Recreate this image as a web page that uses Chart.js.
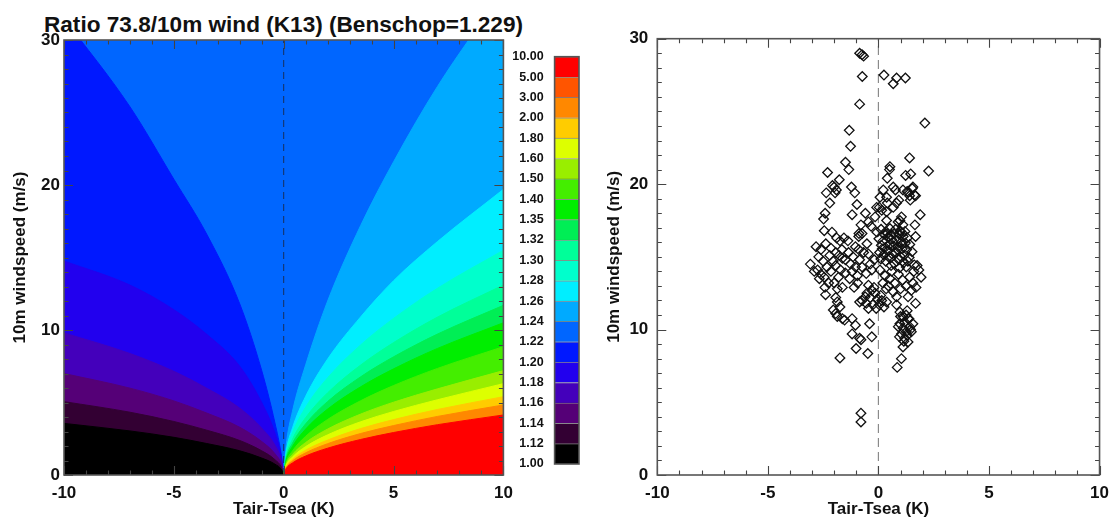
<!DOCTYPE html>
<html>
<head>
<meta charset="utf-8">
<title>Ratio 73.8/10m wind</title>
<script src="https://cdn.jsdelivr.net/npm/chart.js@4.4.1/dist/chart.umd.min.js"></script>
<style>
  html, body { margin: 0; padding: 0; background: #fff; overflow: hidden; }
  body { width: 1117px; height: 523px; position: relative; font-family: "Liberation Sans", Arial, sans-serif; }
  .box { position: absolute; top: 0; height: 523px; }
  #title { position: absolute; left: 0; top: 12px; width: 567px; text-align: center; font-weight: bold;
           font-size: 22.6px; line-height: 26px; color: #111; white-space: nowrap; }
</style>
</head>
<body>
<div id="title">Ratio 73.8/10m wind (K13) (Benschop=1.229)</div>
<div class="box" style="left:0;width:567px"><canvas id="ratioMap"></canvas></div>
<div class="box" style="left:480px;width:110px"><canvas id="ratioKey"></canvas></div>
<div class="box" style="left:590px;width:527px"><canvas id="windScatter"></canvas></div>
<script>
// ---- contour levels of the 73.8m / 10m wind ratio ----
const levelLabels = ['1.00', '1.12', '1.14', '1.16', '1.18', '1.20', '1.22', '1.24', '1.26', '1.28', '1.30',
                     '1.32', '1.35', '1.40', '1.50', '1.60', '1.80', '2.00', '3.00', '5.00', '10.00'];
// one colour per band (levelLabels[i] .. levelLabels[i+1])
const bandColors = ['#000000', '#330033', '#550077', '#4400bb', '#2200ee', '#0018ff', '#0066ff', '#00aaff',
                    '#00eeff', '#00ffcc', '#00ff99', '#00ee55', '#00ee00', '#44ee00', '#99ee00', '#ddff00',
                    '#ffcc00', '#ff8800', '#ff5500', '#ff0000'];

// |Tair-Tsea| (K) where the contour lines are sampled
const dTgrid = [0, 0.1, 0.4, 1, 2, 3.5, 5, 7, 10];

// 10m wind speed (m/s) of each contour line, unstable side (Tair < Tsea)
const unstable122 = [0, 1.3, 3.6, 7.2, 11.8, 16.6, 20.4, 25.4, 31.5];
const unstable120 = [0, 1.2, 2.9, 5.0, 7.5, 9.7, 11.4, 13.1, 14.76];
const unstable118 = [0, 0.98, 2.06, 3.23, 4.61, 5.98, 7.15, 8.38, 9.8];
const unstable116 = [0, 0.70, 1.47, 2.31, 3.29, 4.27, 5.11, 5.99, 7.0];
const unstable114 = [0, 0.51, 1.06, 1.67, 2.38, 3.09, 3.69, 4.33, 5.06];
const unstable112 = [0, 0.36, 0.75, 1.17, 1.67, 2.17, 2.60, 3.04, 3.56];

// stable side (Tair > Tsea)
const stable124 = [0, 1.9, 4.4, 7.6, 12.0, 17.2, 21.6, 26.8, 33.4];
const stable126 = [0, 1.49, 3.25, 5.43, 8.0, 10.9, 13.4, 16.1, 19.7];
const stable128 = [0, 1.41, 2.91, 4.68, 6.71, 8.97, 10.8, 12.88, 15.5];
const stable130 = [0, 1.19, 2.46, 3.96, 5.67, 7.58, 9.13, 10.89, 13.1];
const stable132 = [0, 1.07, 2.19, 3.53, 5.07, 6.77, 8.15, 9.72, 11.7];
const stable135 = [0, 0.96, 1.97, 3.17, 4.55, 6.08, 7.32, 8.73, 10.5];
const stable140 = [0, 0.81, 1.66, 2.67, 3.83, 5.12, 6.17, 7.35, 8.85];
const stable150 = [0, 0.71, 1.42, 2.24, 3.17, 4.20, 5.02, 5.94, 7.2];
const stable160 = [0, 0.62, 1.24, 1.96, 2.77, 3.67, 4.38, 5.19, 6.3];
const stable180 = [0, 0.54, 1.08, 1.71, 2.41, 3.20, 3.82, 4.52, 5.4];
const stable200 = [0, 0.48, 0.97, 1.53, 2.16, 2.86, 3.41, 4.04, 4.83];
const stable500 = [0, 0.41, 0.83, 1.31, 1.85, 2.45, 2.93, 3.47, 4.14];

// observations: [Tair-Tsea (K), 10m wind (m/s)]
const observations = [
  [-0.85, 29.0], [-0.74, 28.9], [-0.67, 28.8], [-0.73, 27.4], [0.25, 27.5], [0.67, 26.9], [0.82, 27.3], [1.22, 27.3],
  [-0.85, 25.5], [2.1, 24.2], [-1.32, 23.7], [-1.26, 22.6], [-1.49, 21.5], [-1.34, 21.0], [1.41, 21.8], [2.27, 20.9],
  [-2.3, 20.8], [0.52, 21.2], [0.5, 21.0], [0.4, 20.4], [1.23, 20.6], [1.46, 20.7], [-1.77, 20.3],
  [-2.08, 19.9], [-2.0, 19.8], [-1.9, 19.6], [-2.36, 19.4], [-1.96, 19.4], [-1.22, 19.8], [-1.07, 19.4], [0.22, 19.6],
  [0.67, 19.8], [1.11, 19.6], [1.56, 19.8], [1.3, 19.5], [1.41, 19.2], [1.68, 19.2], [0.4, 18.7], [1.44, 18.9],
  [-2.2, 18.7], [-0.97, 18.6], [0.04, 18.4], [-2.41, 18.0], [-0.59, 18.0], [-0.15, 17.75], [1.89, 17.9], [-2.48, 17.6],
  [0.37, 17.5], [0.97, 17.5], [-0.79, 17.2], [-0.33, 17.1], [1.65, 17.2], [-2.45, 16.8], [-2.1, 16.7], [-0.88, 16.6],
  [-0.07, 16.7], [0.97, 16.8], [1.07, 16.65], [1.68, 16.4],
  [1.53, 19.7], [1.63, 19.25], [1.34, 19.45], [0.07, 19.1], [0.37, 19.1], [0.77, 19.6], [0.92, 18.9], [-0.08, 18.4],
  [0.15, 18.2], [0.37, 18.1], [0.67, 18.4], [0.82, 18.7], [1.04, 17.75], [0.89, 17.4], [1.11, 17.2], [-0.45, 17.4],
  [-1.19, 17.9], [-0.89, 16.4], [-0.74, 16.6],
  [0.12, 16.9], [0.34, 16.75], [0.52, 16.95], [0.71, 16.6], [0.93, 16.55], [1.12, 16.4], [1.31, 16.3],
  [0.02, 16.25], [0.21, 16.1], [0.43, 16.35], [0.6, 16.2], [0.82, 16.15], [1.03, 16.0], [1.22, 15.95], [1.42, 15.85],
  [0.13, 15.8], [0.31, 15.65], [0.5, 15.85], [0.68, 15.75], [0.88, 15.7], [1.08, 15.55], [1.28, 15.5], [1.52, 15.35],
  [0.05, 15.3], [0.24, 15.15], [0.41, 15.4], [0.62, 15.2], [0.79, 15.3], [0.98, 15.05], [1.18, 15.15], [1.39, 14.95],
  [0.11, 14.85], [0.33, 14.7], [0.54, 14.9], [0.72, 14.55], [0.92, 14.8], [1.14, 14.6], [1.33, 14.7], [1.62, 14.45],
  [0.26, 16.55], [0.66, 16.0], [0.86, 15.5], [0.46, 15.0], [1.06, 15.85], [0.17, 15.55], [0.57, 14.4], [1.26, 14.3],
  [0.96, 14.25], [0.78, 16.9], [1.0, 16.75], [0.4, 16.6], [1.2, 16.75], [0.55, 16.5],
  [0.07, 14.1], [0.3, 13.7], [0.52, 13.5], [0.74, 13.2], [1.41, 13.6], [1.56, 13.2], [1.83, 14.1], [1.93, 13.6],
  [1.34, 12.25], [1.49, 12.7], [1.68, 11.8], [0.67, 12.6], [0.82, 12.25], [0.2, 13.2], [0.45, 13.0], [0.9, 13.8],
  [1.1, 13.4], [1.25, 13.0], [0.6, 14.0], [1.7, 12.9], [1.0, 12.8], [0.35, 12.8], [1.6, 14.0], [1.75, 14.4],
  [-0.45, 13.05], [-0.3, 12.7], [-0.52, 12.5], [-0.37, 12.2], [-0.15, 12.5], [-0.04, 12.1], [0.15, 12.0], [0.04, 11.7],
  [-0.1, 11.45], [0.25, 11.55], [0.37, 11.9], [-0.74, 12.0], [-0.55, 11.8], [-0.45, 11.45], [-0.85, 11.9], [-0.94, 13.2],
  [-0.2, 12.9], [0.1, 12.35], [-0.6, 12.25], [-0.25, 11.7],
  [0.82, 11.7], [0.97, 11.2], [1.11, 10.9], [1.3, 11.3], [1.34, 10.75], [0.97, 10.4], [1.11, 10.1], [1.26, 9.85],
  [1.41, 10.2], [1.04, 9.7], [1.19, 9.4], [1.34, 9.15], [1.49, 9.85], [1.11, 8.8], [1.04, 8.0], [0.85, 7.4],
  [1.38, 10.75], [1.56, 10.4], [1.2, 10.5], [1.0, 10.9], [0.9, 10.2], [1.25, 11.0], [1.45, 10.0], [1.15, 9.2],
  [0.95, 9.5], [1.3, 9.6],
  [-1.89, 16.3], [-1.74, 16.1], [-1.56, 16.3], [-1.38, 16.1], [-2.38, 15.9], [-2.82, 15.7], [-2.6, 15.5], [-2.15, 15.6],
  [-1.93, 15.3], [-1.04, 15.7], [-0.89, 15.5], [-0.52, 15.9], [-0.67, 15.3], [-1.78, 15.1], [-1.63, 14.9], [-1.49, 14.8],
  [-3.08, 14.5], [-2.75, 14.1], [-2.6, 13.8], [-2.33, 14.3], [-2.15, 14.0], [-1.93, 14.4], [-1.71, 14.1], [-1.26, 14.5],
  [-1.04, 14.3], [-1.19, 14.0], [-0.85, 14.8], [-0.74, 14.3], [-0.37, 14.5], [-0.19, 14.8], [-0.55, 13.85], [-2.67, 13.5],
  [-2.42, 12.9], [-2.39, 12.4], [-2.0, 13.2], [-1.86, 12.8], [-1.63, 12.9], [-2.5, 14.7], [-2.2, 15.1], [-1.35, 15.3],
  [-1.15, 15.0], [-2.9, 14.0], [-2.45, 13.6], [-1.5, 13.9], [-1.3, 13.5], [-0.95, 13.7], [-2.05, 14.7], [-1.65, 15.5],
  [-2.7, 15.0], [-0.45, 15.2], [-0.3, 14.1], [-1.8, 13.6], [-1.1, 12.9], [-2.25, 13.2],
  [-1.93, 12.2], [-1.86, 11.9], [-1.74, 11.55], [-2.04, 11.35], [-1.93, 11.1], [-1.86, 10.9], [-1.63, 10.75], [-1.53, 10.65],
  [-1.19, 10.75], [-1.04, 10.3], [-1.19, 9.7], [-0.85, 9.4], [-0.79, 9.3], [-0.4, 10.4], [-0.3, 9.5], [-1.01, 8.7],
  [-0.48, 8.35], [-1.74, 8.05], [-0.79, 4.25], [-0.79, 3.65]
];

// filled contours are painted from the top band down: every line is filled to the bottom axis
const unstableLines = [['1.22', unstable122], ['1.20', unstable120], ['1.18', unstable118],
                       ['1.16', unstable116], ['1.14', unstable114], ['1.12', unstable112]];
const stableLines = [['1.24', stable124], ['1.26', stable126], ['1.28', stable128], ['1.30', stable130],
                     ['1.32', stable132], ['1.35', stable135], ['1.40', stable140], ['1.50', stable150],
                     ['1.60', stable160], ['1.80', stable180], ['2.00', stable200], ['5.00', stable500]];

Chart.defaults.font.family = '"Liberation Sans", Arial, Helvetica, sans-serif';
Chart.defaults.font.weight = 'bold';
Chart.defaults.color = '#111';
Chart.defaults.animation = false;
Chart.defaults.plugins.legend.display = false;
Chart.defaults.plugins.tooltip.enabled = false;

// box around the plot with inward ticks on all four sides
const idlFrame = {
  id: 'idlFrame',
  afterDatasetsDraw(chart, args, opts) {
    const { ctx, chartArea: a, scales } = chart;
    ctx.save();
    if (opts.ticks) {
      ctx.strokeStyle = '#444';
      ctx.lineWidth = 1.1;
      ctx.beginPath();
      const sx = scales.x, sy = scales.y;
      for (let v = sx.min; v <= sx.max; v += 1) {
        const len = v % 5 === 0 ? 9 : 4.5;
        const px = Math.round(sx.getPixelForValue(v)) + 0.5;
        ctx.moveTo(px, a.bottom); ctx.lineTo(px, a.bottom - len);
        ctx.moveTo(px, a.top); ctx.lineTo(px, a.top + len);
      }
      for (let v = sy.min; v <= sy.max; v += 1) {
        const len = v % 10 === 0 ? 9 : 4.5;
        const py = Math.round(sy.getPixelForValue(v)) + 0.5;
        ctx.moveTo(a.left, py); ctx.lineTo(a.left + len, py);
        ctx.moveTo(a.right, py); ctx.lineTo(a.right - len, py);
      }
      ctx.stroke();
    }
    ctx.strokeStyle = '#555';
    ctx.lineWidth = 1.6;
    ctx.strokeRect(a.left, a.top, a.right - a.left, a.bottom - a.top);
    ctx.restore();
  }
};

function xAxis() {
  return {
    type: 'linear', min: -10, max: 10,
    ticks: { stepSize: 5, font: { size: 17 }, padding: 8, maxRotation: 0 },
    grid: { display: false, drawTicks: false },
    border: { display: false },
    title: { display: true, text: 'Tair-Tsea (K)', font: { size: 17 }, padding: { top: 0, bottom: 3 } },
    afterFit: s => { s.height = 48; }
  };
}

function yAxis(labelPad, titlePad, width) {
  return {
    type: 'linear', min: 0, max: 30,
    ticks: { stepSize: 10, font: { size: 17 }, padding: labelPad },
    grid: { display: false, drawTicks: false },
    border: { display: false },
    title: { display: true, text: '10m windspeed (m/s)', font: { size: 17 }, padding: { top: titlePad, bottom: 0 } },
    afterFit: s => { s.width = width; }
  };
}

function bandSet(points, color, order) {
  return {
    data: points, showLine: true, fill: 'start', pointRadius: 0,
    cubicInterpolationMode: 'monotone',
    backgroundColor: color, borderColor: color, borderWidth: 1, order
  };
}

// ---- contour map ----
const mapSets = [];
mapSets.push({ pts: [{ x: -10, y: 30 }, { x: 10, y: 30 }], color: bandColors[6] });
unstableLines.forEach(([lvl, wind]) => {
  const pts = dTgrid.map((d, i) => ({ x: -d, y: wind[i] })).reverse();
  mapSets.push({ pts, color: bandColors[levelLabels.indexOf(lvl) - 1] });
});
stableLines.forEach(([lvl, wind]) => {
  const pts = dTgrid.map((d, i) => ({ x: d, y: wind[i] }));
  mapSets.push({ pts, color: bandColors[levelLabels.indexOf(lvl)] });
});
const mapDatasets = mapSets.map((s, i) => bandSet(s.pts, s.color, mapSets.length - i + 1));
mapDatasets.push({
  data: [{ x: 0, y: 0 }, { x: 0, y: 30 }], showLine: true, fill: false, pointRadius: 0,
  borderColor: 'rgba(30,30,40,0.75)', borderWidth: 1, borderDash: [7, 5], order: 0
});

new Chart(document.getElementById('ratioMap'), {
  type: 'scatter',
  data: { datasets: mapDatasets },
  options: {
    responsive: true, maintainAspectRatio: false, devicePixelRatio: 1,
    layout: { padding: { left: 0, right: 63.6, top: 40, bottom: 0 } },
    scales: { x: xAxis(), y: yAxis(4, 10, 64) },
    plugins: { idlFrame: { ticks: true } }
  },
  plugins: [idlFrame]
});

// ---- colour key ----
new Chart(document.getElementById('ratioKey'), {
  type: 'bar',
  data: {
    labels: [''],
    datasets: bandColors.map((c, i) => ({
      data: [[i, i + 1]], backgroundColor: c,
      borderColor: 'rgba(60,60,60,0.55)', borderWidth: { top: 1, bottom: 0, left: 0, right: 0 },
      borderSkipped: false, barPercentage: 1, categoryPercentage: 1, grouped: false
    }))
  },
  options: {
    responsive: true, maintainAspectRatio: false, devicePixelRatio: 1,
    layout: { padding: { left: 0, right: 11, top: 56.7, bottom: 59 } },
    scales: {
      x: { display: false },
      y: {
        min: 0, max: 20, position: 'left',
        ticks: { stepSize: 1, autoSkip: false, font: { size: 12.5 }, padding: 11,
                 callback: v => levelLabels[Math.round(v)] },
        grid: { display: false, drawTicks: false },
        border: { display: false },
        afterFit: s => { s.width = 74.6; }
      }
    },
    plugins: { idlFrame: { ticks: false } }
  },
  plugins: [idlFrame]
});

// ---- observed wind vs air-sea temperature difference ----
new Chart(document.getElementById('windScatter'), {
  type: 'scatter',
  data: {
    datasets: [
      {
        data: observations.map(([x, y]) => ({ x, y })),
        pointStyle: 'rectRot', pointRadius: 4.8, borderColor: '#111', borderWidth: 1.3,
        backgroundColor: 'rgba(0,0,0,0)', order: 0
      },
      {
        data: [{ x: 0, y: 0 }, { x: 0, y: 30 }], showLine: true, fill: false, pointRadius: 0,
        borderColor: '#8a8a8a', borderWidth: 1.2, borderDash: [9, 5], order: 1
      }
    ]
  },
  options: {
    responsive: true, maintainAspectRatio: false, devicePixelRatio: 1,
    layout: { padding: { left: 0, right: 11, top: 38.7, bottom: 0 } },
    scales: { x: xAxis(), y: yAxis(9, 14, 67.3) },
    plugins: { idlFrame: { ticks: true } }
  },
  plugins: [idlFrame]
});
</script>
</body>
</html>
